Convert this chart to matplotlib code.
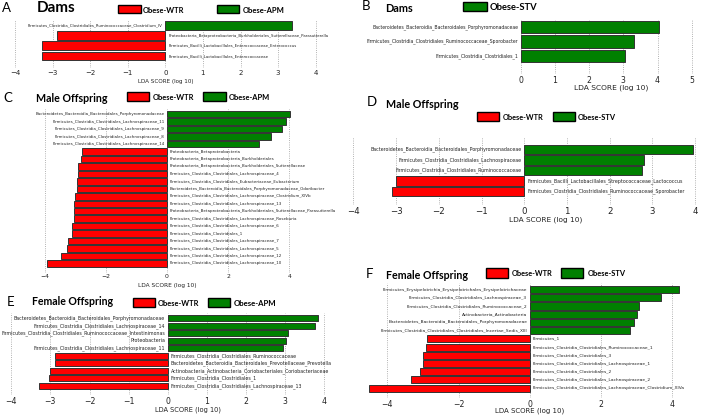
import matplotlib
matplotlib.use('Agg')
import matplotlib.pyplot as plt
from matplotlib.patches import Rectangle

W, H = 702, 416
RED = '#ff0000'
GREEN = '#008000'

# ---- data (top to bottom as drawn) ----
A_labels = ['Firmicutes_Clostridia_Clostridiales_Ruminococcaceae_Clostridium_IV',
            'Proteobacteria_Betaproteobacteria_Burkholderiales_Sutterellaceae_Parasutterella',
            'Firmicutes_Bacilli_Lactobacillales_Enterococcaceae_Enterococcus',
            'Firmicutes_Bacilli_Lactobacillales_Enterococcaceae']
A_scores = [3.38, -2.89, -3.27, -3.27]

B_labels = ['Bacteroidetes_Bacteroidia_Bacteroidales_Porphyromonadaceae',
            'Firmicutes_Clostridia_Clostridiales_Ruminococcaceae_Sporobacter',
            'Firmicutes_Clostridia_Clostridiales_1']
B_scores = [4.04, 3.31, 3.05]

C_labels = ['Bacteroidetes_Bacteroidia_Bacteroidales_Porphyromonadaceae',
            'Firmicutes_Clostridia_Clostridiales_Lachnospiraceae_11',
            'Firmicutes_Clostridia_Clostridiales_Lachnospiraceae_9',
            'Firmicutes_Clostridia_Clostridiales_Lachnospiraceae_8',
            'Firmicutes_Clostridia_Clostridiales_Lachnospiraceae_14',
            'Proteobacteria_Betaproteobacteria',
            'Proteobacteria_Betaproteobacteria_Burkholderiales',
            'Proteobacteria_Betaproteobacteria_Burkholderiales_Sutterellaceae',
            'Firmicutes_Clostridia_Clostridiales_Lachnospiraceae_4',
            'Firmicutes_Clostridia_Clostridiales_Eubacteriaceae_Eubacterium',
            'Bacteroidetes_Bacteroidia_Bacteroidales_Porphyromonadaceae_Odoribacter',
            'Firmicutes_Clostridia_Clostridiales_Lachnospiraceae_Clostridium_XIVb',
            'Firmicutes_Clostridia_Clostridiales_Lachnospiraceae_13',
            'Proteobacteria_Betaproteobacteria_Burkholderiales_Sutterellaceae_Parasutterella',
            'Firmicutes_Clostridia_Clostridiales_Lachnospiraceae_Roseburia',
            'Firmicutes_Clostridia_Clostridiales_Lachnospiraceae_6',
            'Firmicutes_Clostridia_Clostridiales_1',
            'Firmicutes_Clostridia_Clostridiales_Lachnospiraceae_7',
            'Firmicutes_Clostridia_Clostridiales_Lachnospiraceae_5',
            'Firmicutes_Clostridia_Clostridiales_Lachnospiraceae_12',
            'Firmicutes_Clostridia_Clostridiales_Lachnospiraceae_10']
C_scores = [4.02, 3.89, 3.75, 3.40, 3.00, -2.78, -2.81, -2.90, -2.90, -2.93, -2.93,
            -3.00, -3.04, -3.05, -3.05, -3.09, -3.09, -3.22, -3.28, -3.46, -3.93]

D_labels = ['Bacteroidetes_Bacteroidia_Bacteroidales_Porphyromonadaceae',
            'Firmicutes_Clostridia_Clostridiales_Lachnospiraceae',
            'Firmicutes_Clostridia_Clostridiales_Ruminococcaceae',
            'Firmicutes_Bacilli_Lactobacillales_Streptococcaceae_Lactococcus',
            'Firmicutes_Clostridia_Clostridiales_Ruminococcaceae_Sporobacter']
D_scores = [3.94, 2.80, 2.75, -3.01, -3.11]

E_labels = ['Bacteroidetes_Bacteroidia_Bacteroidales_Porphyromonadaceae',
            'Firmicutes_Clostridia_Clostridiales_Lachnospiraceae_14',
            'Firmicutes_Clostridia_Clostridiales_Ruminococcaceae_Intestinimonas',
            'Proteobacteria',
            'Firmicutes_Clostridia_Clostridiales_Lachnospiraceae_11',
            'Firmicutes_Clostridia_Clostridiales_Ruminococcaceae',
            'Bacteroidetes_Bacteroidia_Bacteroidales_Prevotellaceae_Prevotella',
            'Actinobacteria_Actinobacteria_Coriobacteriales_Coriobacteriaceae',
            'Firmicutes_Clostridia_Clostridiales_1',
            'Firmicutes_Clostridia_Clostridiales_Lachnospiraceae_13']
E_scores = [3.85, 3.78, 3.08, 3.02, 2.95, -2.88, -2.88, -3.01, -3.04, -3.28]

F_labels = ['Firmicutes_Erysipelotrichia_Erysipelotrichales_Erysipelotrichaceae',
            'Firmicutes_Clostridia_Clostridiales_Lachnospiraceae_3',
            'Firmicutes_Clostridia_Clostridiales_Ruminococcaceae_2',
            'Actinobacteria_Actinobacteria',
            'Bacteroidetes_Bacteroidia_Bacteroidales_Porphyromonadaceae',
            'Firmicutes_Clostridia_Clostridiales_Clostridiales_Incertae_Sedis_XIII',
            'Firmicutes_1',
            'Firmicutes_Clostridia_Clostridiales_Ruminococcaceae_1',
            'Firmicutes_Clostridia_Clostridiales_3',
            'Firmicutes_Clostridia_Clostridiales_Lachnospiraceae_1',
            'Firmicutes_Clostridia_Clostridiales_2',
            'Firmicutes_Clostridia_Clostridiales_Lachnospiraceae_2',
            'Firmicutes_Clostridia_Clostridiales_Lachnospiraceae_Clostridium_XIVa']
F_scores = [4.19, 3.69, 3.08, 3.00, 2.94, 2.81, -2.88, -2.92, -3.00, -3.00, -3.07, -3.33, -4.51]

fig = plt.figure(figsize=(W / 100, H / 100), dpi=100)
renderer = fig.canvas.get_renderer()


def fx(px):
    return px / W


def fy(py):
    return 1 - py / H


def fit_text(x0, x1, y, s, **kw):
    # place text between pixel x0..x1, baseline at pixel y
    t = fig.text(fx(x0), fy(y), s, fontsize=10, ha='left', va='baseline', **kw)
    w = t.get_window_extent(renderer).width
    t.set_fontsize(10 * (x1 - x0) / w)
    return t


def heading(letter, lx, title, tx, base):
    fig.text(fx(lx), fy(base[0]), letter, family='Lato', fontsize=9.5,
             ha='left', va='baseline')
    fit_text(tx[0], tx[1], base[1], title, family='Lato', weight='bold')


def legend(items, y0, y1):
    for xa, xb, c, lab, ta, tb in items:
        fig.add_artist(Rectangle((fx(xa), fy(y1)), (xb - xa) / W, (y1 - y0) / H,
                                 transform=fig.transFigure, facecolor=c,
                                 edgecolor='black', lw=1))
        fit_text(ta, tb, (y0 + y1) / 2 + 3.5, lab, family='Lato', weight='bold')


def panel(labels, scores, x0, unit, xlim, ticks, bar_top, bar_bot, ax_bot,
          lab_fs, tick_fs, xlab_x, xlab_y, xlab_fs, gap=1.5):
    n = len(labels)
    h = 0.86
    p = (bar_bot - bar_top) / (n - 1 + h)
    ax_top = bar_top - gap
    left = x0 + xlim[0] * unit
    width = (xlim[1] - xlim[0]) * unit
    ax = fig.add_axes([fx(left), fy(ax_bot), width / W, (ax_bot - ax_top) / H])
    colors = [GREEN if s > 0 else RED for s in scores]
    ax.barh(range(n), scores, height=h, color=colors, edgecolor='#333333',
            linewidth=0.7, zorder=2)
    ytop = -h / 2 - gap / p
    ax.set_ylim(ytop + (ax_bot - ax_top) / p, ytop)
    ax.set_xlim(xlim)
    ax.set_xticks(ticks)
    ax.set_yticks([])
    for sp in ax.spines.values():
        sp.set_visible(False)
    ax.grid(axis='x', ls=':', color='#999999', lw=0.6, zorder=0)
    ax.set_axisbelow(True)
    ax.tick_params(axis='x', length=0, pad=1.2, labelsize=tick_fs, colors='#222222')
    for i, (lab, s) in enumerate(zip(labels, scores)):
        if s > 0:
            ax.annotate(lab, (0, i), xytext=(-1.8, 0), textcoords='offset points',
                        ha='right', va='center', fontsize=lab_fs, color='#222222')
        else:
            ax.annotate(lab, (0, i), xytext=(2.2, 0), textcoords='offset points',
                        ha='left', va='center', fontsize=lab_fs, color='#222222')
    ax.set_xlabel('LDA SCORE (log 10)', fontsize=xlab_fs, color='#222222')
    ax.xaxis.set_label_coords((xlab_x - left) / width, (ax_bot - xlab_y) / (ax_bot - ax_top))
    ax.xaxis.label.set_va('center')
    return ax


# A
panel(A_labels, A_scores, 165.3, 37.6, (-4.15, 4.25), range(-4, 5), 21, 60.5, 68,
      2.8, 5.0, 165.5, 81, 4.1)
heading('A', 1.5, 'Dams', (36.7, 75), (12, 12.5))
legend([(117.7, 141, RED, 'Obese-WTR', 143, 185),
        (216.7, 239.3, GREEN, 'Obese-APM', 242.7, 285)], 5, 13.3)

# B
panel(B_labels, B_scores, 520.7, 34.2, (-0.1, 5.1), range(0, 6), 20.7, 62, 74,
      3.3, 5.6, 611, 87.5, 5.4)
heading('B', 361.5, 'Dams', (385, 412.7), (9.5, 11.7))
legend([(462.7, 486.7, GREEN, 'Obese-STV', 490, 537.7)], 2, 11)

# C
panel(C_labels, C_scores, 167, 30.6, (-4.1, 4.2), [-4, -2, 0, 2, 4], 111, 266.7, 272.5,
      2.9, 4.4, 167.5, 285.7, 4.2)
heading('C', 3, 'Male Offspring', (36, 108), (102, 102.3))
legend([(127, 149.3, RED, 'Obese-WTR', 153, 195),
        (203.3, 225.7, GREEN, 'Obese-APM', 229, 270.7)], 92.3, 100.7)

# D
panel(D_labels, D_scores, 524.3, 42.7, (-4.05, 4.1), range(-4, 5), 145, 196, 205,
      3.4, 6.2, 546, 220, 5.3, gap=8)
heading('D', 366.5, 'Male Offspring', (386, 458.3), (106, 108.3))
legend([(476.7, 499.3, RED, 'Obese-WTR', 502.7, 544),
        (552.7, 575, GREEN, 'Obese-STV', 578, 616)], 112.3, 121)

# E
panel(E_labels, E_scores, 167.7, 39.1, (-4.15, 4.2), range(-4, 5), 315, 389, 395,
      3.4, 5.6, 187.5, 410, 4.8, gap=2.5)
heading('E', 7, 'Female Offspring', (31.7, 113.3), (306, 305))
legend([(132.7, 155, RED, 'Obese-WTR', 157.7, 199.3),
        (207.7, 230, GREEN, 'Obese-APM', 233.3, 276)], 298.3, 307.3)

# F
panel(F_labels, F_scores, 529.7, 35.6, (-4.55, 4.7), [-4, -2, 0, 2, 4], 286, 391.7, 398,
      3.2, 5.6, 529.5, 411, 5.0, gap=3)
heading('F', 365.5, 'Female Offspring', (386, 468.3), (278.5, 279))
legend([(486, 508.3, RED, 'Obese-WTR', 511.7, 552.7),
        (561, 583.3, GREEN, 'Obese-STV', 587.7, 625.7)], 268.3, 277.7)

fig.savefig('out.png', dpi=100)
